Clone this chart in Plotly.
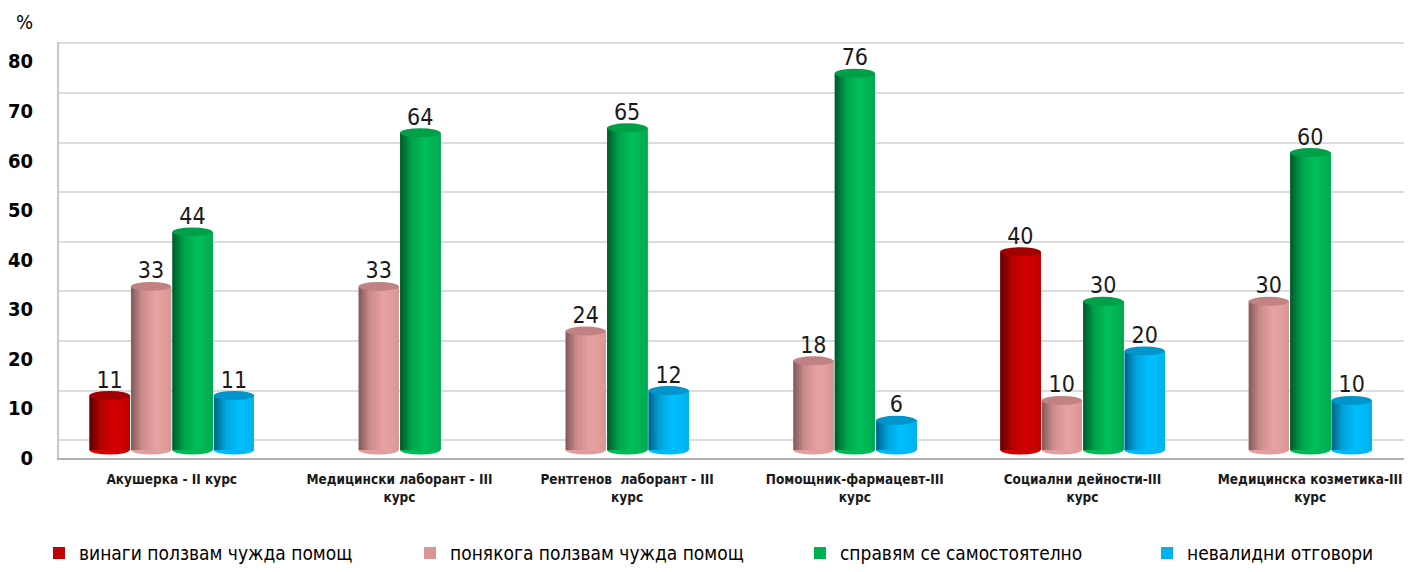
import plotly.graph_objects as go

# ---------------- data ----------------
categories = [
    "Акушерка - II курс",
    "Медицински лаборант - III<br>курс",
    "Рентгенов  лаборант - III<br>курс",
    "Помощник-фармацевт-III<br>курс",
    "Социални дейности-III<br>курс",
    "Медицинска козметика-III<br>курс",
]
always_help = [11, None, None, None, 40, None]
sometimes_help = [33, 33, 24, 18, 10, 30]
on_my_own = [44, 64, 65, 76, 30, 60]
invalid = [11, None, 12, 6, 20, 10]
series_names = [
    "винаги ползвам чужда помощ",
    "понякога ползвам чужда помощ",
    "справям се самостоятелно",
    "невалидни отговори",
]
y_ticks = [0, 10, 20, 30, 40, 50, 60, 70, 80]

# ---------------- style ----------------
FONT = "DejaVu Sans Condensed, Liberation Sans Narrow, Arial Narrow, sans-serif"
legend_colors = ["#C00000", "#D99694", "#00B050", "#00B0F0"]
cap_colors = ["#A00000", "#C08282", "#00A048", "#0096CC"]
gradients = [
    [(0.0, (0x5C, 0x00, 0x00)), (0.28, (0xB4, 0x00, 0x00)), (0.62, (0xD6, 0x00, 0x00)), (1.0, (0xBE, 0x00, 0x00))],
    [(0.0, (0x80, 0x58, 0x58)), (0.28, (0xCC, 0x8C, 0x8C)), (0.62, (0xE8, 0xA2, 0xA2)), (1.0, (0xDA, 0x96, 0x96))],
    [(0.0, (0x00, 0x58, 0x2C)), (0.28, (0x00, 0xA2, 0x4A)), (0.62, (0x00, 0xC0, 0x5C)), (1.0, (0x00, 0xAA, 0x50))],
    [(0.0, (0x00, 0x60, 0x84)), (0.28, (0x00, 0xA4, 0xDC)), (0.62, (0x00, 0xC0, 0xFF)), (1.0, (0x00, 0xB0, 0xEC))],
]
legend_x = [0.0222, 0.2880, 0.5673, 0.8159]   # container fractions, one legend per series


def grad_color(stops, t):
    for (t0, c0), (t1, c1) in zip(stops[:-1], stops[1:]):
        if t0 <= t <= t1:
            f = (t - t0) / (t1 - t0)
            c = [round(a + (b - a) * f) for a, b in zip(c0, c1)]
            return "rgb(%d,%d,%d)" % tuple(c)
    return "rgb(%d,%d,%d)" % stops[-1][1]


SLOT = 0.182
W = 0.176
N = 14
CAP = 1.8

series = [always_help, sometimes_help, on_my_own, invalid]
positions = [[] for _ in series]
for i in range(len(categories)):
    present = [s for s in range(len(series)) if series[s][i] is not None]
    n = len(present)
    for k, s in enumerate(present):
        positions[s].append((i + (k - (n - 1) / 2) * SLOT, series[s][i]))

fig = go.Figure()
shapes = []
legend_layouts = {}
for s, name in enumerate(series_names):
    xs = [p[0] for p in positions[s]]
    vs = [p[1] for p in positions[s]]
    lg = "legend" if s == 0 else f"legend{s + 1}"
    fig.add_trace(go.Bar(
        x=xs, y=vs, width=W, name=name, legend=lg,
        marker=dict(color=legend_colors[s], line=dict(width=0)),
        text=[str(v) for v in vs], textposition="outside",
        textfont=dict(family=FONT, size=23, color="#1A1A1A"),
        cliponaxis=False, hoverinfo="skip",
    ))
    legend_layouts[lg] = dict(
        orientation="h", xref="container", yref="container",
        x=legend_x[s], y=0.0195, xanchor="left", yanchor="middle",
        font=dict(family=FONT, size=19, color="#000000"),
        bgcolor="rgba(0,0,0,0)",
    )
    for j in range(N):
        frac = (N - j) / N
        xj = [x - W / 2 + j * W / N + W * frac / 2 for x in xs]
        fig.add_trace(go.Bar(
            x=xj, y=vs, width=W * frac, showlegend=False,
            marker=dict(color=grad_color(gradients[s], (j + 0.5) / N), line=dict(width=0)),
            hoverinfo="skip",
        ))
    for x, v in zip(xs, vs):
        shapes.append(dict(type="circle", xref="x", yref="y",
                           x0=x - W / 2, x1=x + W / 2, y0=v - CAP / 2, y1=v + CAP / 2,
                           fillcolor=cap_colors[s], line=dict(width=0), layer="above"))
        shapes.append(dict(type="circle", xref="x", yref="y",
                           x0=x - W / 2, x1=x + W / 2, y0=-CAP / 2, y1=CAP / 2,
                           fillcolor=grad_color(gradients[s], 0.55), line=dict(width=0), layer="between"))

# helper traces so overlay axes are drawn
fig.add_trace(go.Scatter(x=[None], y=[None], yaxis="y2", showlegend=False, hoverinfo="skip"))
fig.add_trace(go.Scatter(x=[None], y=[None], yaxis="y3", showlegend=False, hoverinfo="skip"))

fig.update_layout(
    width=1396, height=556,
    margin=dict(l=47, r=0, t=34, b=106),
    paper_bgcolor="white", plot_bgcolor="white",
    barmode="overlay",
    shapes=shapes,
    font=dict(family=FONT, color="#000000"),
    xaxis=dict(
        range=[-0.495, 5.412],
        tickvals=list(range(len(categories))), ticktext=[f"<b>{c}</b>" for c in categories],
        tickfont=dict(family=FONT, size=13.5, color="#1A1A1A"),
        showgrid=False, zeroline=False, showline=True, linecolor="#B0B0B0", linewidth=2,
        ticks="", ticklabelstandoff=8, ticklabeloverflow="allow",
    ),
    yaxis=dict(range=[-1.6, 82.3], showticklabels=False, showgrid=False, zeroline=False, showline=False),
    yaxis2=dict(
        overlaying="y", side="left", range=[0, 83.9],
        tickvals=y_ticks, ticktext=[f"<b>{t}</b>" for t in y_ticks],
        tickfont=dict(family=FONT, size=20, color="#000000"),
        showgrid=False, zeroline=False, showline=True, linecolor="#C8C8C8", linewidth=2,
        ticks="", ticklabelstandoff=20,
    ),
    yaxis3=dict(
        overlaying="y", side="right", range=[-3.6, 80.3],
        tickvals=y_ticks, showticklabels=False,
        showgrid=True, gridcolor="#DCDCDC", gridwidth=2, zeroline=False, showline=False,
    ),
    annotations=[dict(text="%", xref="paper", yref="paper", x=-0.026, y=1.048,
                      xanchor="center", yanchor="middle", showarrow=False,
                      font=dict(family=FONT, size=20, color="#000000"))],
    **legend_layouts,
)

fig.write_html("out.html")
